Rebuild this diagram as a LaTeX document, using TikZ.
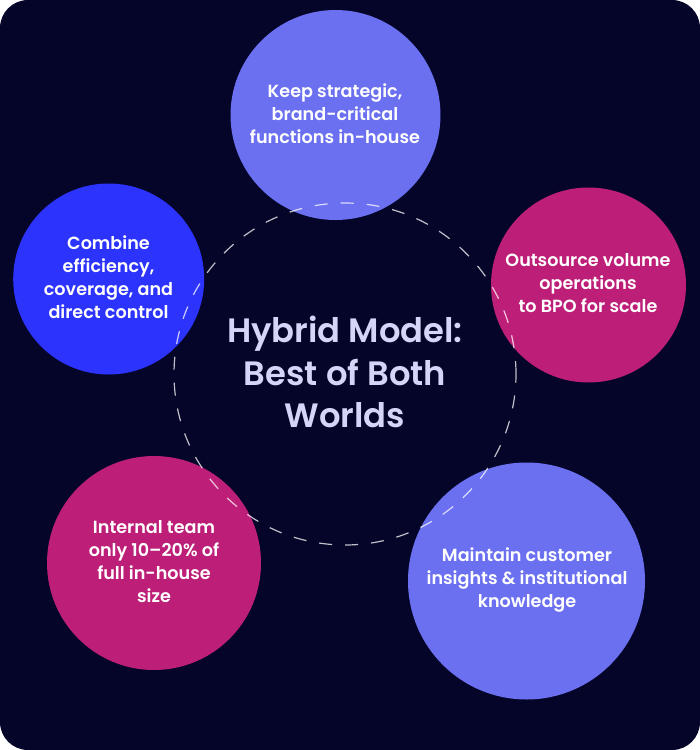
\documentclass[tikz,border=0pt]{standalone}
\usepackage{fontspec}
\setmainfont{Poppins}[BoldFont={Poppins SemiBold}]
\definecolor{bgnavy}{HTML}{05052A}
\definecolor{periw}{HTML}{6A70F0}
\definecolor{royal}{HTML}{2C33FD}
\definecolor{magent}{HTML}{BD1F78}
\definecolor{titlec}{HTML}{D5D5F7}
\tikzset{
  bubble/.style={circle, minimum size=#1, inner sep=0pt},
  btext/.style={text=white, align=center, font=\bfseries\fontsize{17.6}{23}\selectfont},
}
\begin{document}
\begin{tikzpicture}[x=1pt,y=-1pt]
\useasboundingbox (0,0) rectangle (700,750);
\fill[white] (0,0) rectangle (700,750);
\fill[bgnavy, rounded corners=28pt] (0,0) rectangle (700,750);
% bubbles
\node[bubble=210pt, fill=periw] (top) at (335.5,115) {};
\node[bubble=191pt, fill=royal] (left) at (108.7,279) {};
\node[bubble=195pt, fill=magent] (right) at (588.5,285) {};
\node[bubble=214pt, fill=magent] (bl) at (154,563) {};
\node[bubble=237pt, fill=periw] (br) at (526.5,581) {};
% dashed ring
\node[circle, minimum size=342pt, inner sep=0pt, draw=white, draw opacity=0.75, line width=1.2pt, dash pattern=on 13pt off 13pt] (ring) at (345,374) {};
% texts
\node[btext] (ttop) at (335,114) {Keep strategic,\\brand-critical\\functions in-house};
\node[btext] (tleft) at (108.5,277.5) {Combine\\efficiency,\\coverage, and\\direct control};
\node[btext] (tright) at (588,283) {Outsource volume\\operations\\to BPO for scale};
\node[btext] (tbl) at (154,561.5) {Internal team\\only 10–20\% of\\full in-house\\size};
\node[btext] (tbr) at (527,580) {Maintain customer\\insights \& institutional\\knowledge};
\node[text=titlec, align=center, font=\bfseries\fontsize{33.8}{42.5}\selectfont] (title) at (345,372) {Hybrid Model:\\Best of Both\\Worlds};
\end{tikzpicture}
\end{document}
